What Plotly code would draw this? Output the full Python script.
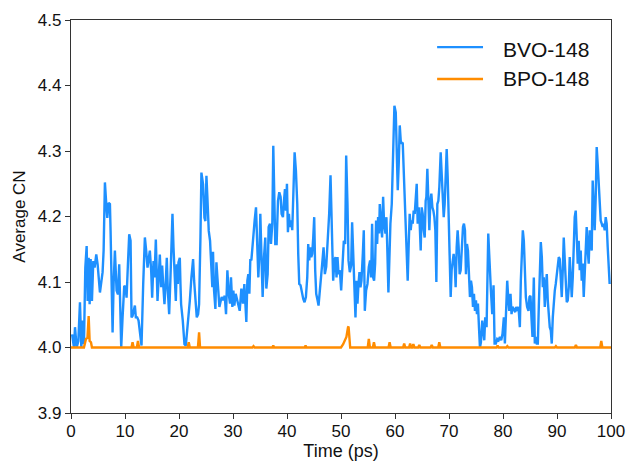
import plotly.graph_objects as go

# Average coordination number vs simulation time
bvo_time = [
    0.2, 0.55, 0.74, 1.05, 1.36, 1.66, 1.91, 2.16, 2.40, 2.65, 2.90, 3.08, 3.27, 3.45, 3.64, 3.88,
    4.13, 4.37, 4.68, 4.93, 5.36, 5.61, 5.85, 6.04, 6.28, 6.53, 6.72, 6.96, 7.21, 7.33, 7.52, 7.70,
    7.89, 8.13, 8.44, 8.69, 8.93, 9.12, 9.30, 9.55, 9.86, 10.10, 10.29, 10.54, 10.78, 11.03, 11.21,
    11.40, 11.65, 11.83, 12.01, 12.26, 12.51, 12.82, 13.06, 13.37, 13.68, 13.92, 14.17, 14.42, 14.60,
    14.85, 15.03, 15.28, 15.47, 15.71, 15.90, 16.02, 16.27, 16.45, 16.70, 16.88, 17.07, 17.31, 17.56,
    17.74, 17.93, 18.18, 18.42, 18.61, 18.79, 18.98, 19.22, 19.41, 19.59, 19.78, 19.90, 20.15, 20.27,
    20.39, 20.70, 21.01, 21.26, 21.50, 21.75, 22.00, 22.30, 22.61, 22.80, 23.04, 23.29, 23.54, 23.72,
    23.97, 24.15, 24.46, 24.71, 24.89, 25.08, 25.26, 25.51,
    25.75, 25.99, 26.17, 26.30, 26.49, 26.74, 26.93, 27.11, 27.30, 27.48, 27.67, 27.91, 28.16, 28.47,
    28.71, 28.96, 29.21, 29.45, 29.63, 29.88, 30.07, 30.25, 30.50, 30.75, 30.99, 31.24, 31.55, 31.85,
    32.10, 32.29, 32.47, 32.66, 32.84, 33.03, 33.21, 33.40, 33.70, 34.01, 34.26, 34.44, 34.69, 34.93,
    35.06, 35.31, 35.49, 35.74, 35.98, 36.17, 36.42, 36.60, 36.85, 37.03, 37.28, 37.46, 37.65, 37.83,
    38.08, 38.33, 38.57, 38.82, 39.00, 39.25, 39.44, 39.62, 39.80, 39.99, 40.17, 40.36, 40.54, 40.79,
    40.97, 41.16, 41.41, 41.65, 41.90, 42.08, 42.27, 42.51, 42.76, 43.01, 43.25, 43.50, 43.75, 43.93,
    44.12, 44.30, 44.49, 44.67, 44.86, 45.04, 45.22, 45.41, 45.66, 45.84, 46.03, 46.27, 46.52, 46.77,
    47.01, 47.26, 47.57, 47.81, 48.06, 48.31, 48.55, 48.80, 48.98, 49.17, 49.35, 49.54, 49.79, 50.03,
    50.28, 50.52, 50.77, 50.96, 51.20, 51.39,
    51.63, 51.88, 52.06, 52.25, 52.43, 52.68, 52.87, 53.05, 53.24, 53.42, 53.61, 53.79, 54.04, 54.22,
    54.41, 54.65, 54.90, 55.15, 55.39, 55.58, 55.76, 55.95, 56.13, 56.32, 56.50, 56.69, 56.87, 57.06,
    57.18, 57.43, 57.61, 57.80, 57.98, 58.23, 58.41, 58.60, 58.78, 58.97, 59.15, 59.40, 59.64, 59.89,
    60.14, 60.32, 60.51, 60.69, 60.88, 61.06, 61.25, 61.43, 61.62, 61.80, 61.98, 62.17, 62.35, 62.54,
    62.72, 62.91, 63.09, 63.28, 63.46, 63.65, 63.83, 64.02, 64.20, 64.39, 64.57, 64.76, 64.94, 65.13,
    65.31, 65.50, 65.68, 65.81, 65.99, 66.18, 66.36, 66.55, 66.73, 66.92, 67.10, 67.29, 67.47, 67.66,
    67.84, 68.03, 68.21, 68.46, 68.65, 68.83, 69.02, 69.20, 69.39, 69.57, 69.76, 69.94, 70.13, 70.31,
    70.49, 70.68, 70.86, 71.05, 71.23, 71.42, 71.60, 71.79, 71.97, 72.16, 72.40, 72.59, 72.77, 72.96,
    73.14, 73.33, 73.51, 73.70, 73.88, 74.07, 74.25, 74.44, 74.62, 74.81, 74.99, 75.18, 75.36, 75.55,
    75.73,
    75.91, 76.16, 76.34, 76.53, 76.71, 76.96, 77.27, 77.51, 77.76, 78.01, 78.25, 78.44, 78.68, 78.93,
    79.18, 79.42, 79.67, 79.91, 80.16, 80.35, 80.53, 80.78, 80.96, 81.15, 81.39, 81.58, 81.76, 82.01,
    82.26, 82.44, 82.69, 82.87, 83.12, 83.30, 83.49, 83.67, 83.86, 84.04, 84.23, 84.47, 84.72, 84.90,
    85.09, 85.27, 85.46, 85.58, 85.71, 85.89, 86.08, 86.26, 86.45, 86.63, 86.82, 87.00, 87.19, 87.37,
    87.55, 87.74, 87.92, 88.11, 88.29, 88.48, 88.66, 88.85, 89.03, 89.22, 89.40, 89.59, 89.77, 89.96,
    90.14, 90.33, 90.51, 90.70, 90.88, 91.07, 91.25, 91.44, 91.62, 91.81, 91.99, 92.18, 92.36, 92.55,
    92.73, 92.92, 93.10, 93.28, 93.47, 93.65, 93.84, 94.02, 94.21, 94.39, 94.58, 94.76, 94.95, 95.13,
    95.32, 95.50, 95.69, 95.87, 96.06, 96.24, 96.43, 96.61, 96.80, 96.98, 97.17, 97.35, 97.54, 97.72,
    97.91, 98.09, 98.28, 98.46, 98.65, 98.83, 99.02, 99.20, 99.39, 99.75,
]

bvo_cn = [
    4.020, 4.000, 4.031, 4.000, 4.010, 4.069, 4.000, 4.041, 4.005, 4.122, 4.155, 4.071, 4.137, 4.066, 4.135, 4.071,
    4.132, 4.122, 4.142, 4.127, 4.084, 4.097, 4.115, 4.148, 4.252, 4.219, 4.198, 4.221, 4.219, 4.178, 4.107, 4.023,
    4.097, 4.148, 4.087, 4.081, 4.127, 4.071, 4.000, 4.046, 4.094, 4.092, 4.076, 4.127, 4.173, 4.163, 4.046,
    4.048, 4.061, 4.064, 4.046, 4.046, 4.041, 4.023, 4.003, 4.097, 4.168, 4.148, 4.122, 4.137, 4.148,
    4.117, 4.076, 4.132, 4.107, 4.165, 4.107, 4.071, 4.112, 4.142, 4.092, 4.125, 4.097, 4.066, 4.102,
    4.137, 4.087, 4.051, 4.107, 4.165, 4.204, 4.153, 4.097, 4.071, 4.127, 4.097, 4.130, 4.137, 4.097,
    4.066, 4.041, 4.005, 4.003, 4.023, 4.041, 4.071, 4.107, 4.135, 4.102, 4.066, 4.046, 4.051, 4.066,
    4.168, 4.267, 4.249, 4.198, 4.193, 4.262, 4.229, 4.178,
    4.163, 4.118, 4.092, 4.146, 4.087, 4.059, 4.130, 4.107, 4.072, 4.062, 4.069, 4.077, 4.072, 4.079,
    4.051, 4.118, 4.082, 4.067, 4.107, 4.062, 4.087, 4.064, 4.082, 4.072, 4.064, 4.056, 4.090, 4.067,
    4.097, 4.051, 4.039, 4.102, 4.112, 4.082, 4.135, 4.133, 4.168, 4.194, 4.214, 4.163, 4.107, 4.151,
    4.204, 4.128, 4.077, 4.138, 4.168, 4.090, 4.112, 4.184, 4.189, 4.158, 4.189, 4.308, 4.219, 4.158,
    4.158, 4.224, 4.237, 4.230, 4.204, 4.199, 4.224, 4.242, 4.209, 4.250, 4.176, 4.204, 4.184, 4.194,
    4.179, 4.235, 4.298, 4.270, 4.219, 4.143, 4.097, 4.095, 4.082, 4.074, 4.069, 4.077, 4.107, 4.158,
    4.133, 4.153, 4.138, 4.143, 4.168, 4.199, 4.118, 4.082, 4.072, 4.064, 4.082, 4.112, 4.128, 4.153,
    4.112, 4.123, 4.163, 4.204, 4.263, 4.194, 4.102, 4.133, 4.138, 4.107, 4.138, 4.112, 4.118, 4.087,
    4.118, 4.163, 4.158, 4.293, 4.219, 4.133,
    4.115, 4.125, 4.191, 4.138, 4.087, 4.046, 4.102, 4.067, 4.097, 4.115, 4.092, 4.102, 4.143, 4.179,
    4.056, 4.087, 4.097, 4.123, 4.133, 4.107, 4.189, 4.107, 4.102, 4.128, 4.194, 4.158, 4.199, 4.174,
    4.219, 4.194, 4.168, 4.230, 4.189, 4.174, 4.199, 4.143, 4.084, 4.138, 4.189, 4.219, 4.296, 4.369,
    4.359, 4.316, 4.240, 4.280, 4.339, 4.316, 4.311, 4.313, 4.270, 4.250, 4.214, 4.163, 4.102, 4.158,
    4.204, 4.179, 4.194, 4.189, 4.209, 4.204, 4.224, 4.250, 4.189, 4.214, 4.189, 4.148, 4.214, 4.204,
    4.179, 4.168, 4.224, 4.230, 4.273, 4.214, 4.179, 4.224, 4.235, 4.214, 4.209, 4.199, 4.179, 4.100,
    4.219, 4.224, 4.245, 4.298, 4.260, 4.219, 4.199, 4.219, 4.265, 4.303, 4.260, 4.199, 4.128, 4.077,
    4.118, 4.138, 4.143, 4.128, 4.092, 4.153, 4.179, 4.153, 4.112, 4.118, 4.158, 4.184, 4.189, 4.179,
    4.112, 4.158, 4.148, 4.118, 4.077, 4.102, 4.092, 4.062, 4.082, 4.056, 4.072, 4.051, 4.067, 4.031,
    4.000,
    4.008, 4.041, 4.026, 4.011, 4.046, 4.031, 4.174, 4.118, 4.087, 4.051, 4.095, 4.006, 4.006, 4.013,
    4.011, 4.016, 4.011, 4.021, 4.046, 4.006, 4.046, 4.102, 4.077, 4.056, 4.082, 4.051, 4.062, 4.059,
    4.054, 4.062, 4.056, 4.062, 4.031, 4.102, 4.148, 4.179, 4.163, 4.118, 4.077, 4.062, 4.056, 4.077,
    4.079, 4.046, 4.016, 4.062, 4.107, 4.006, 4.016, 4.006, 4.006, 4.062, 4.128, 4.161, 4.138, 4.092,
    4.107, 4.062, 4.092, 4.112, 4.072, 4.041, 4.031, 4.026, 4.006, 4.046, 4.077, 4.087, 4.097, 4.112,
    4.133, 4.138, 4.135, 4.107, 4.077, 4.118, 4.168, 4.133, 4.087, 4.069, 4.072, 4.092, 4.138, 4.107,
    4.077, 4.107, 4.148, 4.199, 4.209, 4.168, 4.128, 4.163, 4.118, 4.148, 4.102, 4.128, 4.077, 4.112,
    4.158, 4.184, 4.148, 4.128, 4.179, 4.163, 4.148, 4.255, 4.219, 4.179, 4.230, 4.306, 4.280, 4.250,
    4.219, 4.194, 4.189, 4.184, 4.189, 4.179, 4.199, 4.189, 4.153, 4.097,
]

bpo_time = [
    0.0, 2.4, 2.77, 3.05, 3.27, 3.45, 3.7, 3.88,
    11.2, 11.4, 11.6, 12.2, 12.4, 12.6, 21.6, 21.8, 22.0, 23.5, 23.72, 23.9,
    33.6, 33.8, 34.0, 37.3, 37.46, 37.6, 43.3, 43.44, 43.6,
    50.0, 50.4, 50.8, 51.0, 51.3, 51.4, 51.7,
    54.95, 55.15, 55.35, 55.9, 56.1, 56.3, 58.8, 59.0, 59.2, 61.5, 61.7, 61.9,
    62.6, 62.8, 63.0, 63.2, 63.4, 63.6, 64.3, 64.5, 64.7, 66.6, 66.8, 67.0, 68.0, 68.2, 68.4,
    78.8, 79.0, 79.2, 80.6, 80.8, 81.0, 89.6, 89.8, 90.0, 93.3, 93.5, 93.7, 98.0, 98.2, 98.4, 100.0,
]

bpo_cn = [
    4.000, 4.000, 4.013, 4.015, 4.048, 4.010, 4.008, 4.000,
    4.000, 4.008, 4.000, 4.000, 4.010, 4.000, 4.000, 4.008, 4.000, 4.000, 4.023, 4.000,
    4.000, 4.002, 4.000, 4.000, 4.003, 4.000, 4.000, 4.003, 4.000,
    4.000, 4.005, 4.011, 4.016, 4.031, 4.032, 4.000,
    4.000, 4.013, 4.000, 4.000, 4.008, 4.000, 4.000, 4.008, 4.000, 4.000, 4.006, 4.000,
    4.000, 4.006, 4.000, 4.000, 4.005, 4.000, 4.000, 4.004, 4.000, 4.000, 4.004, 4.000, 4.000, 4.008, 4.000,
    4.000, 4.003, 4.000, 4.000, 4.002, 4.000, 4.000, 4.002, 4.000, 4.000, 4.004, 4.000, 4.000, 4.010, 4.000, 4.000,
]

assert len(bvo_time) == len(bvo_cn), (len(bvo_time), len(bvo_cn))
assert len(bpo_time) == len(bpo_cn), (len(bpo_time), len(bpo_cn))

series_names = ["BVO-148", "BPO-148"]
series_colors = ["#1E90FF", "#FF8C00"]
x_ticks = list(range(0, 101, 10))
y_ticks = [3.9, 4.0, 4.1, 4.2, 4.3, 4.4, 4.5]

FONT = "Liberation Sans, Arial, sans-serif"
AXIS_COLOR = "#333333"
TEXT_COLOR = "#111111"

fig = go.Figure()
fig.add_trace(go.Scatter(x=bvo_time, y=bvo_cn, mode="lines", name=series_names[0],
                         line=dict(color=series_colors[0], width=2.4)))
fig.add_trace(go.Scatter(x=bpo_time, y=bpo_cn, mode="lines", name=series_names[1],
                         line=dict(color=series_colors[1], width=2.4)))

# Legend drawn as line samples + labels in the upper-right corner of the axes
legend_rows = [(0.931, 0.926), (0.850, 0.852)]
for (ly, ty), name, color in zip(legend_rows, series_names, series_colors):
    fig.add_shape(type="line", xref="paper", yref="paper", x0=0.678, x1=0.763, y0=ly, y1=ly,
                  line=dict(color=color, width=2.4))
    fig.add_annotation(xref="paper", yref="paper", x=0.796, y=ty, text=name, showarrow=False,
                       xanchor="left", yanchor="middle", font=dict(family=FONT, size=21, color=TEXT_COLOR))

axis_common = dict(showgrid=False, zeroline=False, showline=True, linecolor=AXIS_COLOR, linewidth=1.2,
                   mirror=True, ticks="outside", ticklen=5, tickwidth=1.2, tickcolor=AXIS_COLOR,
                   tickfont=dict(family=FONT, size=17, color=TEXT_COLOR))

fig.update_xaxes(range=[0, 100], tickvals=x_ticks, ticklabelstandoff=-3,
                 title=dict(text="Time (ps)", font=dict(family=FONT, size=18, color=TEXT_COLOR), standoff=7),
                 **axis_common)
fig.update_yaxes(range=[3.9, 4.5], tickvals=y_ticks, tickformat=".1f",
                 title=dict(text="Average CN", font=dict(family=FONT, size=17, color=TEXT_COLOR), standoff=7),
                 **axis_common)

fig.update_layout(width=629, height=461, margin=dict(l=71, r=18, t=20, b=48, autoexpand=False),
                  plot_bgcolor="white", paper_bgcolor="white", showlegend=False,
                  font=dict(family=FONT, color=TEXT_COLOR))

fig.write_html("out.html")
